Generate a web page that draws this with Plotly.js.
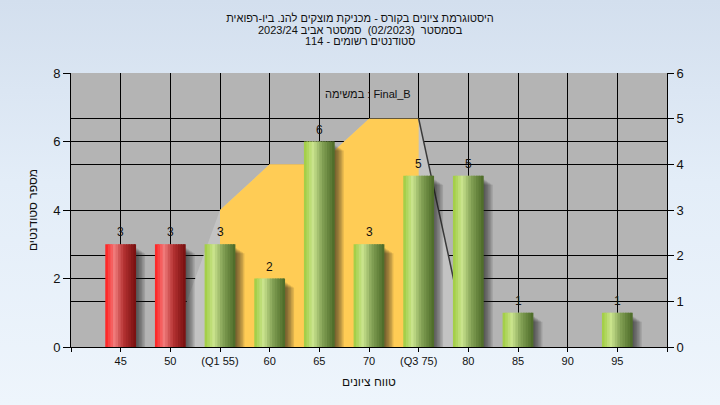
<!DOCTYPE html>
<html><head><meta charset="utf-8">
<script src="https://cdn.plot.ly/plotly-3.0.1.min.js"></script>
<style>
html,body{margin:0;padding:0;width:720px;height:405px;overflow:hidden;
background:linear-gradient(to bottom,#d3dfee 0%,#e3edf8 45%,#eef5fc 100%);}
#chart{width:720px;height:405px;}
</style>
</head><body><div id="chart"></div>
<script>
// ---- data ----
const categories = ['45','50','55','60','65','70','75','80','85','90','95'];
const tickLabels = ['45','50','(Q1 55)','60','65','70','(Q3 75)','80','85','90','95'];
const counts = [3,3,3,2,6,3,5,5,1,0,1];
const passGrade = 55;
const curveGrades = ['50','55','60','65','70','75','80'];
const curveValues = [0,3,4,4,5,5,0];
const q1Grade = '55';
const q3Grade = '75';
const titleLines = [
  'היסטוגרמת ציונים בקורס - מכניקת מוצקים להנ. ביו-רפואית',
  'בסמסטר  (02/2023)  סמסטר אביב 2023/24',
  'סטודנטים רשומים - 114'
];
const taskLabel = 'במשימה : Final_B';
const yTitle = 'מספר סטודנטים';
const xTitle = 'טווח ציונים';

// ---- style / geometry ----
const FONT = 'Liberation Sans, Arial, DejaVu Sans, sans-serif';
const TXT = '#111111';
const M = {l:71, r:53, t:73, b:58};
const PW = 720 - M.l - M.r, PH = 405 - M.t - M.b;
const xSpan = categories.length + 1;        // range -1 .. n
const pxX = PW / xSpan;
const yMaxL = 8, yMaxR = 6;
const pxY = PH / yMaxL;
const BW = 0.62;                             // bar width (index units)
const N = 12;                                // gradient slices

const idx = g => categories.indexOf(g);
const xs = categories.map((_, i) => i);

function lerp(a, b, t){ return a.map((v,i)=>Math.round(v + (b[i]-v)*t)); }
function grad(stops, t){
  for (let i=0;i<stops.length-1;i++){
    const [t0,c0]=stops[i],[t1,c1]=stops[i+1];
    if (t<=t1){ return lerp(c0,c1,(t-t0)/(t1-t0)); }
  }
  return stops[stops.length-1][1];
}
const redStops = [[0,[255,28,28]],[0.3,[240,125,125]],[0.6,[180,50,50]],[1,[118,14,14]]];
const greenStops = [[0,[158,204,62]],[0.3,[202,228,142]],[0.6,[130,160,85]],[1,[74,104,38]]];

const traces = [];
// curve (right axis)
const cx = curveGrades.map(idx);
traces.push({type:'scatter', mode:'lines', x:cx, y:curveValues, xaxis:'x', yaxis:'y',
  fill:'tozeroy', fillcolor:'#C3C3C3', line:{width:0, color:'rgba(0,0,0,0)'}, hoverinfo:'skip'});
const a = curveGrades.indexOf(q1Grade), b = curveGrades.indexOf(q3Grade);
traces.push({type:'scatter', mode:'lines', x:cx.slice(a,b+1), y:curveValues.slice(a,b+1), xaxis:'x', yaxis:'y',
  fill:'tozeroy', fillcolor:'#FFCC55', line:{width:0, color:'rgba(0,0,0,0)'}, hoverinfo:'skip'});
traces.push({type:'scatter', mode:'lines', x:cx.slice(b,b+2), y:curveValues.slice(b,b+2), xaxis:'x', yaxis:'y',
  line:{width:1.5, color:'#3a3a3a'}, hoverinfo:'skip'});

// soft shadows (several translucent layers)
[1.5,3,4.5,6,7.5,9].forEach((s,k)=>{
  const drop = (4 + k) / pxY;
  traces.push({type:'bar', x:xs, y:counts.map(v=>Math.max(0, v - drop)), xaxis:'x', yaxis:'y2',
    width:BW, offset:-BW/2 + s/pxX, marker:{color:'rgba(25,25,25,0.13)', line:{width:0}}, hoverinfo:'skip'});
});
// gradient slices
for (let j=0;j<N;j++){
  const t = (j+0.5)/N;
  const cols = categories.map(g => {
    const c = grad(+g < passGrade ? redStops : greenStops, t);
    return `rgb(${c[0]},${c[1]},${c[2]})`;
  });
  const w = BW/N;
  traces.push({type:'bar', x:xs, y:counts, xaxis:'x', yaxis:'y2',
    width: j<N-1 ? w*1.6 : w, offset:-BW/2 + j*w,
    marker:{color:cols, line:{width:0}}, hoverinfo:'skip'});
}

const annotations = [];
counts.forEach((v,i)=>{
  if (v>0) annotations.push({x:i, y:v, xref:'x', yref:'y2', text:String(v), showarrow:false,
    yshift:12, font:{family:FONT, size:12, color:TXT}});
});
annotations.push({xref:'paper', yref:'paper', x:(368-M.l)/PW, y:(405-M.b-86)/PH, text:taskLabel,
  showarrow:false, font:{family:FONT, size:11, color:TXT}});
[[1,29.5],[2,41]].forEach(([k,yy])=>{
  annotations.push({xref:'paper', yref:'paper', x:(360-M.l)/PW, y:(405-M.b-yy)/PH, text:titleLines[k],
    showarrow:false, font:{family:FONT, size:11, color:TXT}, yanchor:'middle'});
});

const tickvals = [-1].concat(xs, [categories.length]);
const ticktext = [''].concat(tickLabels, ['']);

const layout = {
  width:720, height:405, margin:M, showlegend:false, barmode:'overlay',
  paper_bgcolor:'rgba(0,0,0,0)', plot_bgcolor:'#B4B4B4',
  font:{family:FONT, color:TXT},
  title:{text:titleLines[0], font:{family:FONT, size:11, color:TXT}, x:0.5, xref:'container',
    y:1-18/405, yref:'container', yanchor:'middle'},
  xaxis:{range:[-1, categories.length], tickmode:'array', tickvals:tickvals, ticktext:ticktext,
    showgrid:true, gridcolor:'#000', gridwidth:1, zeroline:false, showline:true, linecolor:'#000', linewidth:1,
    ticks:'outside', ticklen:4, tickcolor:'#000', tickfont:{family:FONT, size:11, color:TXT},
    title:{text:xTitle, font:{family:FONT, size:12, color:TXT}, standoff:11}, fixedrange:true},
  yaxis:{range:[0,yMaxR], side:'right', tick0:0, dtick:1, showgrid:true, gridcolor:'#000', gridwidth:1,
    zeroline:false, showline:true, linecolor:'#000', ticks:'outside', ticklen:6, tickcolor:'#000',
    tickfont:{family:FONT, size:13, color:TXT}, fixedrange:true},
  yaxis2:{overlaying:'y', side:'left', range:[0,yMaxL], tick0:0, dtick:2, showgrid:true, gridcolor:'#000', gridwidth:1,
    zeroline:false, showline:true, linecolor:'#000', ticks:'outside', ticklen:7, tickcolor:'#000',
    tickfont:{family:FONT, size:13, color:TXT},
    title:{text:yTitle, font:{family:FONT, size:12, color:TXT}, standoff:12}, fixedrange:true},
  annotations:annotations
};
Plotly.newPlot('chart', traces, layout, {displayModeBar:false, staticPlot:true});
</script></body></html>
